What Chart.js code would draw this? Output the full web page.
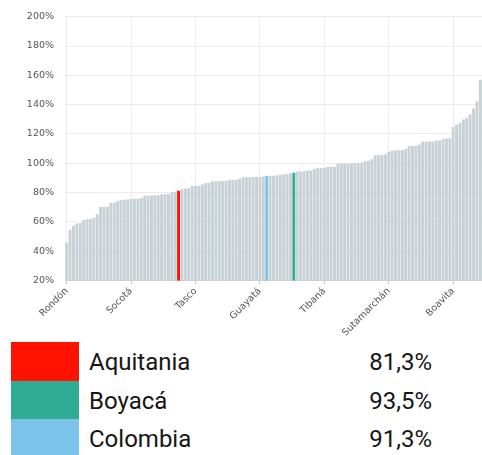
<!DOCTYPE html>
<html>
<head>
<meta charset="utf-8">
<script src="https://cdn.jsdelivr.net/npm/chart.js@4/dist/chart.umd.min.js"></script>
<style>
  html, body { margin: 0; padding: 0; background: #fff; }
  body { width: 482px; height: 455px; position: relative; overflow: hidden; }
  #wrap { position: absolute; left: 0; top: 0; width: 482px; height: 342px; }
  .row { position: absolute; left: 0; width: 482px; height: 38.4px; }
  .box { position: absolute; left: 11px; top: 0; width: 68px; height: 38.4px; }
  .name, .val { position: absolute; top: 1px; line-height: 38.4px; font-family: Roboto, sans-serif; font-size: 24px; color: #161616; }
  .name { left: 89px; }
  .val { right: 50px; text-align: right; }
</style>
</head>
<body>
<div id="wrap"><canvas id="c"></canvas></div>
<div id="legend"></div>
<script>
// Sorted municipality values (%), left to right
const values = [
  45.7, 54.6, 57.3, 58.9, 59.2, 61.3, 61.8, 62.0, 62.9, 65.2,
  70.1, 70.2, 70.4, 73.0, 73.1, 74.1, 75.0, 75.1, 75.2, 75.7,
  75.7, 75.8, 76.3, 77.8, 77.9, 78.0, 78.1, 78.2, 78.8, 78.9,
  79.0, 80.2, 80.4, 81.3, 82.2, 82.8, 83.0, 84.4, 84.5, 84.6,
  85.5, 86.6, 86.7, 87.7, 87.8, 87.8, 87.9, 88.0, 88.6, 88.7,
  88.8, 89.5, 90.4, 90.5, 90.5, 90.6, 90.6, 90.7, 91.0, 91.3,
  91.4, 91.5, 91.6, 92.4, 92.5, 92.6, 93.1, 93.5, 94.3, 94.4,
  94.5, 95.0, 95.1, 96.0, 96.6, 96.7, 96.8, 97.5, 97.6, 97.7,
  99.7, 99.8, 99.8, 99.9, 100.0, 100.1, 100.2, 100.5, 101.6, 101.7,
  102.7, 105.4, 105.5, 105.6, 106.1, 107.8, 108.5, 108.8, 108.9, 109.0,
  109.9, 111.7, 111.8, 111.9, 112.8, 114.6, 114.7, 114.8, 114.9, 115.5,
  115.6, 116.8, 116.9, 117.0, 124.7, 126.5, 127.6, 129.8, 131.1, 133.3,
  137.3, 142.3, 157.0
];
// Known category names by bar position
const namedBars = [
  [0, 'Rondón'], [19, 'Socotá'], [33, 'Aquitania'], [38, 'Tasco'],
  [57, 'Guayatá'], [59, 'Colombia'], [67, 'Boyacá'], [76, 'Tibaná'],
  [95, 'Sutamarchán'], [114, 'Boavita']
];
const tickEvery = 19;
const yTicks = [20, 40, 60, 80, 100, 120, 140, 160, 180, 200];

const highlightNames = ['Aquitania', 'Boyacá', 'Colombia'];
const highlightValues = ['81,3%', '93,5%', '91,3%'];
const highlightColors = ['#ff1200', '#30ac95', '#7cc3e9'];
const barColor = '#c8d1d6';

const categories = values.map((v, i) => {
  const f = namedBars.find(n => n[0] === i);
  return f ? f[1] : 'm' + (i + 1);
});
const colors = categories.map(c => {
  const k = highlightNames.indexOf(c);
  return k >= 0 ? highlightColors[k] : barColor;
});

const FONT = 'DejaVu Sans';
new Chart(document.getElementById('c'), {
  type: 'bar',
  data: {
    labels: categories,
    datasets: [{
      data: values,
      backgroundColor: colors,
      borderWidth: 0,
      barPercentage: 0.86,
      categoryPercentage: 1.0
    }]
  },
  options: {
    responsive: true,
    maintainAspectRatio: false,
    animation: false,
    layout: { padding: { top: 12, right: 0, left: 0, bottom: 0 } },
    plugins: { legend: { display: false }, tooltip: { enabled: false } },
    scales: {
      x: {
        afterFit: s => { s.height = 61.5; s.paddingRight = 0; s.paddingLeft = 0; },
        border: { display: true, color: '#c9cfd3' },
        grid: {
          offset: false,
          drawTicks: true,
          tickLength: 4,
          color: ctx => (ctx.index % tickEvery === 0 ? '#ececec' : 'rgba(0,0,0,0)'),
          tickColor: ctx => (ctx.index % tickEvery === 0 ? '#c8c8c8' : 'rgba(0,0,0,0)')
        },
        ticks: {
          autoSkip: false,
          maxRotation: 45,
          minRotation: 45,
          padding: 1,
          color: '#555',
          font: { family: FONT, size: 9.5 },
          callback: (v, i) => (i % tickEvery === 0 ? categories[i] : '')
        }
      },
      y: {
        min: yTicks[0],
        max: yTicks[yTicks.length - 1],
        afterFit: s => { s.width = 65; },
        afterBuildTicks: s => { s.ticks = yTicks.map(v => ({ value: v })); },
        border: { display: false },
        grid: { color: '#ececec', drawTicks: false },
        ticks: {
          padding: 11,
          color: '#555',
          font: { family: FONT, size: 9.5 },
          callback: v => v + '%'
        }
      }
    }
  }
});

// HTML legend table
const legend = document.getElementById('legend');
highlightNames.forEach((n, i) => {
  const row = document.createElement('div');
  row.className = 'row';
  row.style.top = (342.3 + 38.4 * i) + 'px';
  row.innerHTML = '<div class="box" style="background:' + highlightColors[i] + '"></div>' +
    '<div class="name">' + n + '</div><div class="val">' + highlightValues[i] + '</div>';
  legend.appendChild(row);
});
</script>
</body>
</html>
